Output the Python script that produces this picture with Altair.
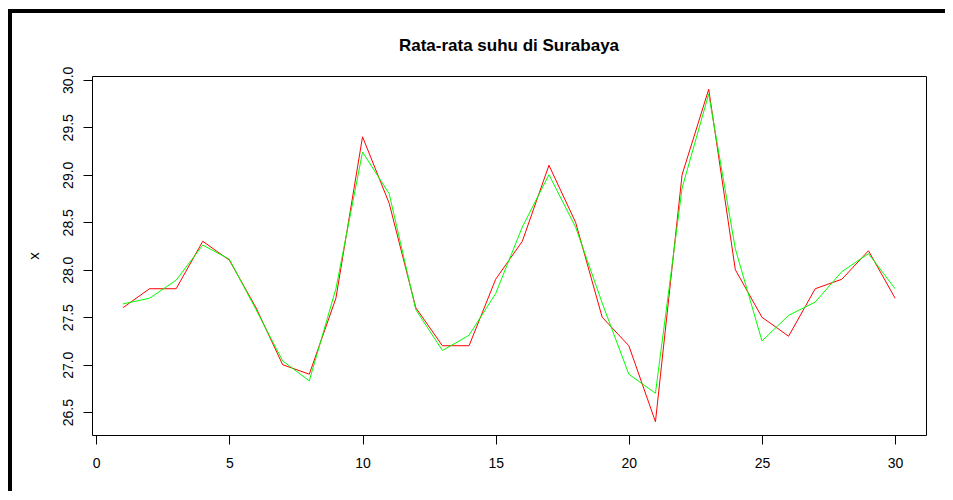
import altair as alt
import pandas as pd

days = list(range(1, 31))
suhu = [27.6, 27.8, 27.8, 28.3, 28.1, 27.6, 27.0, 26.9, 27.7, 29.4,
        28.7, 27.6, 27.2, 27.2, 27.9, 28.3, 29.1, 28.5, 27.5, 27.2,
        26.4, 29.0, 29.9, 28.0, 27.5, 27.3, 27.8, 27.9, 28.2, 27.7]
fitted = [27.64, 27.70, 27.89, 28.26, 28.11, 27.58, 27.04, 26.83, 27.80, 29.24,
          28.80, 27.58, 27.15, 27.31, 27.75, 28.45, 29.00, 28.45, 27.65, 26.90,
          26.70, 28.86, 29.85, 28.22, 27.25, 27.52, 27.66, 27.98, 28.17, 27.80]
x_ticks = [0, 5, 10, 15, 20, 25, 30]
y_ticks = [26.5, 27.0, 27.5, 28.0, 28.5, 29.0, 29.5, 30.0]
title_text = "Rata-rata suhu di Surabaya"

FONT = "Liberation Sans, Arial"

df_red = pd.DataFrame({"day": days, "val": suhu})
df_green = pd.DataFrame({"day": days, "val": fitted})

xs = alt.Scale(domain=[-0.16, 31.16], nice=False, zero=False)
ys = alt.Scale(domain=[26.26, 30.04], nice=False, zero=False)

x_enc = alt.X("day:Q", scale=xs, title=None,
              axis=alt.Axis(values=x_ticks, format="d", domain=False, grid=False,
                            tickSize=9, tickColor="black", labelFont=FONT,
                            labelFontSize=14, labelColor="black",
                            labelBaseline="alphabetic", labelPadding=23,
                            labelFlush=False))
y_enc = alt.Y("val:Q", scale=ys, title="x",
              axis=alt.Axis(values=y_ticks, format=".1f", domain=False, grid=False,
                            tickSize=9, tickColor="black", labelFont=FONT,
                            labelFontSize=14, labelColor="black", labelAngle=270,
                            labelAlign="center", labelBaseline="alphabetic",
                            labelPadding=11, labelFlush=False,
                            titleFont=FONT, titleFontSize=15, titleFontWeight="normal",
                            titleColor="black", titleAngle=270, titleX=-54, titleY=179.5,
                            titleBaseline="alphabetic", titleAlign="center"))

red_line = alt.Chart(df_red).mark_line(color="#FF0000", strokeWidth=1).encode(x=x_enc, y=y_enc)
green_line = alt.Chart(df_green).mark_line(color="#00FF00", strokeWidth=1).encode(x="day:Q", y="val:Q")

frame_left = alt.Chart(df_red).mark_rule(color="black", strokeWidth=3).encode(
    x=alt.value(-82), y=alt.value(-65), y2=alt.value(520))
frame_top = alt.Chart(df_red).mark_rule(color="black", strokeWidth=3).encode(
    x=alt.value(-83.5), x2=alt.value(900), y=alt.value(-65))

chart = alt.layer(red_line, green_line, frame_left, frame_top).properties(
    width=834, height=359,
    title=alt.Title(title_text, font=FONT, fontSize=17, fontWeight="bold",
                    color="black", anchor="middle", frame="group",
                    baseline="alphabetic", offset=-58.5),
    autosize=alt.AutoSizeParams(type="none"),
    padding={"left": 84, "top": 68, "right": 19, "bottom": 56},
).configure_view(stroke="black", strokeWidth=1)

chart.save("out.html", embed_options={"renderer": "svg", "actions": False})
